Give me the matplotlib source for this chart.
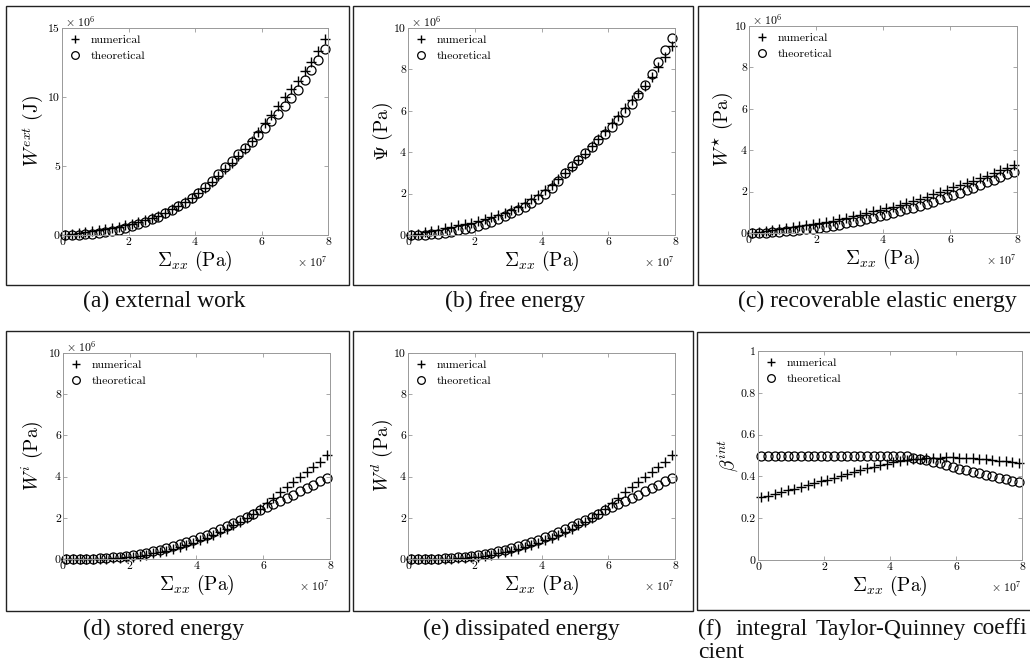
import matplotlib
matplotlib.use("Agg")
import matplotlib.pyplot as plt
import numpy as np
from matplotlib.patches import Rectangle
from matplotlib.ticker import FuncFormatter

plt.rcParams["font.family"] = "serif"
plt.rcParams["font.serif"] = ["cmr10"]
plt.rcParams["mathtext.fontset"] = "cm"
plt.rcParams["axes.formatter.use_mathtext"] = True
plt.rcParams["axes.unicode_minus"] = False

# Sigma_xx in units of 1e7 Pa
sigma = [0.1, 0.3, 0.5, 0.7, 0.9, 1.1, 1.3, 1.5, 1.7, 1.9,
         2.1, 2.3, 2.5, 2.7, 2.9, 3.1, 3.3, 3.5, 3.7, 3.9,
         4.1, 4.3, 4.5, 4.7, 4.9, 5.1, 5.3, 5.5, 5.7, 5.9,
         6.1, 6.3, 6.5, 6.7, 6.9, 7.1, 7.3, 7.5, 7.7, 7.9]

# energies in units of 1e6
wext_num = [0.02, 0.07, 0.13, 0.19, 0.27, 0.34, 0.41, 0.50, 0.59, 0.69,
            0.80, 0.92, 1.07, 1.23, 1.41, 1.62, 1.85, 2.11, 2.40, 2.70,
            3.05, 3.44, 3.86, 4.29, 4.76, 5.23, 5.73, 6.26, 6.83, 7.44,
            8.12, 8.73, 9.36, 9.98, 10.57, 11.18, 11.86, 12.56, 13.33, 14.20]
wext_th = [0.00, 0.01, 0.02, 0.05, 0.09, 0.14, 0.21, 0.30, 0.39, 0.51,
           0.64, 0.79, 0.95, 1.14, 1.34, 1.57, 1.81, 2.07, 2.35, 2.65,
           3.03, 3.47, 3.94, 4.43, 4.90, 5.37, 5.84, 6.30, 6.77, 7.25,
           7.74, 8.25, 8.78, 9.33, 9.91, 10.53, 11.22, 11.94, 12.69, 13.46]

psi_num = [0.02, 0.07, 0.13, 0.19, 0.26, 0.33, 0.39, 0.46, 0.53, 0.60,
           0.68, 0.76, 0.86, 0.96, 1.07, 1.21, 1.36, 1.53, 1.72, 1.92,
           2.15, 2.41, 2.69, 2.98, 3.29, 3.60, 3.93, 4.28, 4.65, 5.02,
           5.40, 5.75, 6.12, 6.50, 6.85, 7.22, 7.65, 8.10, 8.60, 9.15]
psi_th = [0.00, 0.01, 0.02, 0.04, 0.07, 0.11, 0.16, 0.22, 0.28, 0.36,
          0.45, 0.55, 0.65, 0.77, 0.90, 1.05, 1.20, 1.36, 1.54, 1.73,
          1.98, 2.29, 2.63, 2.99, 3.32, 3.64, 3.96, 4.27, 4.59, 4.89,
          5.21, 5.57, 5.95, 6.35, 6.78, 7.24, 7.77, 8.34, 8.92, 9.53]

wstar_num = [0.02, 0.06, 0.10, 0.14, 0.18, 0.22, 0.27, 0.32, 0.37, 0.42,
             0.48, 0.54, 0.60, 0.67, 0.74, 0.81, 0.88, 0.96, 1.04, 1.12,
             1.20, 1.28, 1.37, 1.46, 1.55, 1.65, 1.75, 1.86, 1.97, 2.09,
             2.20, 2.31, 2.42, 2.53, 2.64, 2.76, 2.89, 3.02, 3.16, 3.30]
wstar_th = [0.00, 0.01, 0.02, 0.03, 0.05, 0.08, 0.11, 0.14, 0.17, 0.21,
            0.26, 0.30, 0.35, 0.41, 0.47, 0.53, 0.59, 0.66, 0.73, 0.81,
            0.88, 0.96, 1.05, 1.14, 1.23, 1.32, 1.42, 1.52, 1.62, 1.73,
            1.84, 1.95, 2.07, 2.19, 2.31, 2.44, 2.57, 2.70, 2.83, 2.97]

# stored and dissipated energy curves coincide
wd_num = [0.00, 0.00, 0.00, 0.00, 0.01, 0.01, 0.02, 0.04, 0.06, 0.09,
          0.12, 0.16, 0.21, 0.27, 0.34, 0.41, 0.49, 0.58, 0.68, 0.78,
          0.90, 1.03, 1.17, 1.31, 1.47, 1.63, 1.80, 1.98, 2.18, 2.42,
          2.72, 2.98, 3.24, 3.48, 3.72, 3.96, 4.21, 4.46, 4.73, 5.05]
wd_th = [0.00, 0.00, 0.00, 0.01, 0.02, 0.03, 0.05, 0.08, 0.11, 0.15,
         0.19, 0.24, 0.30, 0.37, 0.44, 0.52, 0.61, 0.71, 0.81, 0.93,
         1.05, 1.18, 1.31, 1.44, 1.58, 1.73, 1.88, 2.03, 2.18, 2.36,
         2.53, 2.68, 2.83, 2.98, 3.13, 3.29, 3.45, 3.60, 3.77, 3.93]
wi_num = wd_num
wi_th = wd_th

beta_num = [0.300, 0.308, 0.316, 0.324, 0.333, 0.341, 0.350, 0.358, 0.367, 0.376,
            0.385, 0.394, 0.403, 0.412, 0.421, 0.430, 0.438, 0.446, 0.454, 0.461,
            0.467, 0.472, 0.477, 0.481, 0.484, 0.487, 0.489, 0.490, 0.491, 0.491,
            0.490, 0.489, 0.487, 0.485, 0.482, 0.479, 0.476, 0.472, 0.468, 0.464]
beta_th = [0.500, 0.500, 0.500, 0.500, 0.500, 0.500, 0.500, 0.500, 0.500, 0.500,
           0.500, 0.500, 0.500, 0.500, 0.500, 0.500, 0.500, 0.500, 0.500, 0.500,
           0.500, 0.500, 0.496, 0.490, 0.484, 0.478, 0.470, 0.462, 0.453, 0.445,
           0.436, 0.429, 0.422, 0.415, 0.408, 0.401, 0.394, 0.387, 0.380, 0.373]

W, H = 1030, 663
fig = plt.figure(figsize=(W / 100, H / 100), dpi=100)


def box(l, t, r, b):
    return [l / W, 1 - b / H, (r - l) / W, (b - t) / H]


def frame(l, t, r, b):
    fig.add_artist(Rectangle((l / W, 1 - b / H), (r - l) / W, (b - t) / H,
                             transform=fig.transFigure, fill=False,
                             ec="#222222", lw=1.0))


x = np.array(sigma) * 1e7

panels = [
    # axes px box, frame px box, ylabel, num, th, ymax, ystep, yscale, offset, ylabel x
    ((62, 28, 328, 235), (6, 6, 349, 285), r"$W^{ext}\ (\mathrm{J})$",
     wext_num, wext_th, 15, 5, 1e6, True, -0.112),
    ((408, 28, 675, 235), (353, 6, 693, 285), r"$\Psi\ (\mathrm{Pa})$",
     psi_num, psi_th, 10, 2, 1e6, True, -0.095),
    ((749, 26, 1017, 233), (698, 6, 1040, 285), r"$W^{\star}\ (\mathrm{Pa})$",
     wstar_num, wstar_th, 10, 2, 1e6, True, -0.097),
    ((63, 353, 330, 559), (6, 331, 349, 611), r"$W^{i}\ (\mathrm{Pa})$",
     wi_num, wi_th, 10, 2, 1e6, True, -0.116),
    ((408, 353, 675, 559), (353, 331, 693, 611), r"$W^{d}\ (\mathrm{Pa})$",
     wd_num, wd_th, 10, 2, 1e6, False, -0.097),
    ((758, 351, 1022, 560), (697, 332, 1040, 610), r"$\beta^{int}$",
     beta_num, beta_th, 1, 0.2, 1, False, -0.117),
]

for axbox, frbox, ylab, ynum, yth, ymax, ystep, yscale, show_off, ylx in panels:
    frame(*frbox)
    ax = fig.add_axes(box(*axbox))
    ax.plot(x, np.array(ynum) * yscale, ls="none", marker="+", ms=7.5, mew=1.0,
            color="k", label="numerical", clip_on=False)
    ax.plot(x, np.array(yth) * yscale, ls="none", marker="o", ms=6.5, mfc="none",
            mec="k", mew=0.9, label="theoretical", clip_on=False)
    ax.set_xlim(0, 8e7)
    ax.set_ylim(0, ymax * yscale)
    ax.set_xticks(np.arange(0, 8.01e7, 2e7))
    ax.set_yticks(np.arange(0, ymax + ystep / 2, ystep) * yscale)
    ax.xaxis.set_major_formatter(FuncFormatter(lambda v, p: f"{v / 1e7:g}"))
    ax.yaxis.set_major_formatter(FuncFormatter(lambda v, p, s=yscale: f"{round(v / s, 6):g}"))
    ax.tick_params(direction="in", length=3, width=0.6, color="#999999",
                   labelsize=8.5, pad=1.5, top=True, right=True)
    for sp in ax.spines.values():
        sp.set_color("#999999")
        sp.set_linewidth(0.7)
    ax.set_xlabel(r"$\Sigma_{xx}\ (\mathrm{Pa})$", fontsize=14, va="center")
    ax.xaxis.set_label_coords(0.5, -0.125)
    ax.set_ylabel(ylab, fontsize=14, va="center")
    ax.yaxis.set_label_coords(ylx, 0.5)
    ax.annotate(r"$\times\ 10^{7}$", xy=(1, 0), xycoords="axes fraction",
                xytext=(0, -19), textcoords="offset points", ha="right",
                va="center", fontsize=8.5)
    if show_off:
        ax.annotate(r"$\times\ 10^{6}$", xy=(0, 1), xycoords="axes fraction",
                    xytext=(2, 5), textcoords="offset points", ha="left",
                    va="center", fontsize=8.5)
    ax.legend(loc="upper left", frameon=False, fontsize=8.5, handlelength=1.0,
              handletextpad=0.8, borderpad=0.3, borderaxespad=0.3,
              labelspacing=0.45, markerscale=0.85)

cap = dict(family="Liberation Serif", fontsize=17, va="center", color="#111111")
fig.text(164 / W, 1 - 301 / H, "(a) external work", ha="center", **cap)
fig.text(515 / W, 1 - 301 / H, "(b) free energy", ha="center", **cap)
fig.text(877 / W, 1 - 301 / H, "(c) recoverable elastic energy", ha="center", **cap)
fig.text(164 / W, 1 - 629 / H, "(d) stored energy", ha="center", **cap)
fig.text(521 / W, 1 - 629 / H, "(e) dissipated energy", ha="center", **cap)
for word, xpos in [("(f)", 698), ("integral", 735), ("Taylor-Quinney", 816), ("coeffi", 972)]:
    fig.text(xpos / W, 1 - 629 / H, word, ha="left", **cap)
fig.text(698 / W, 1 - 652 / H, "cient", ha="left", **cap)

fig.savefig("out.png", dpi=100, facecolor="white")
